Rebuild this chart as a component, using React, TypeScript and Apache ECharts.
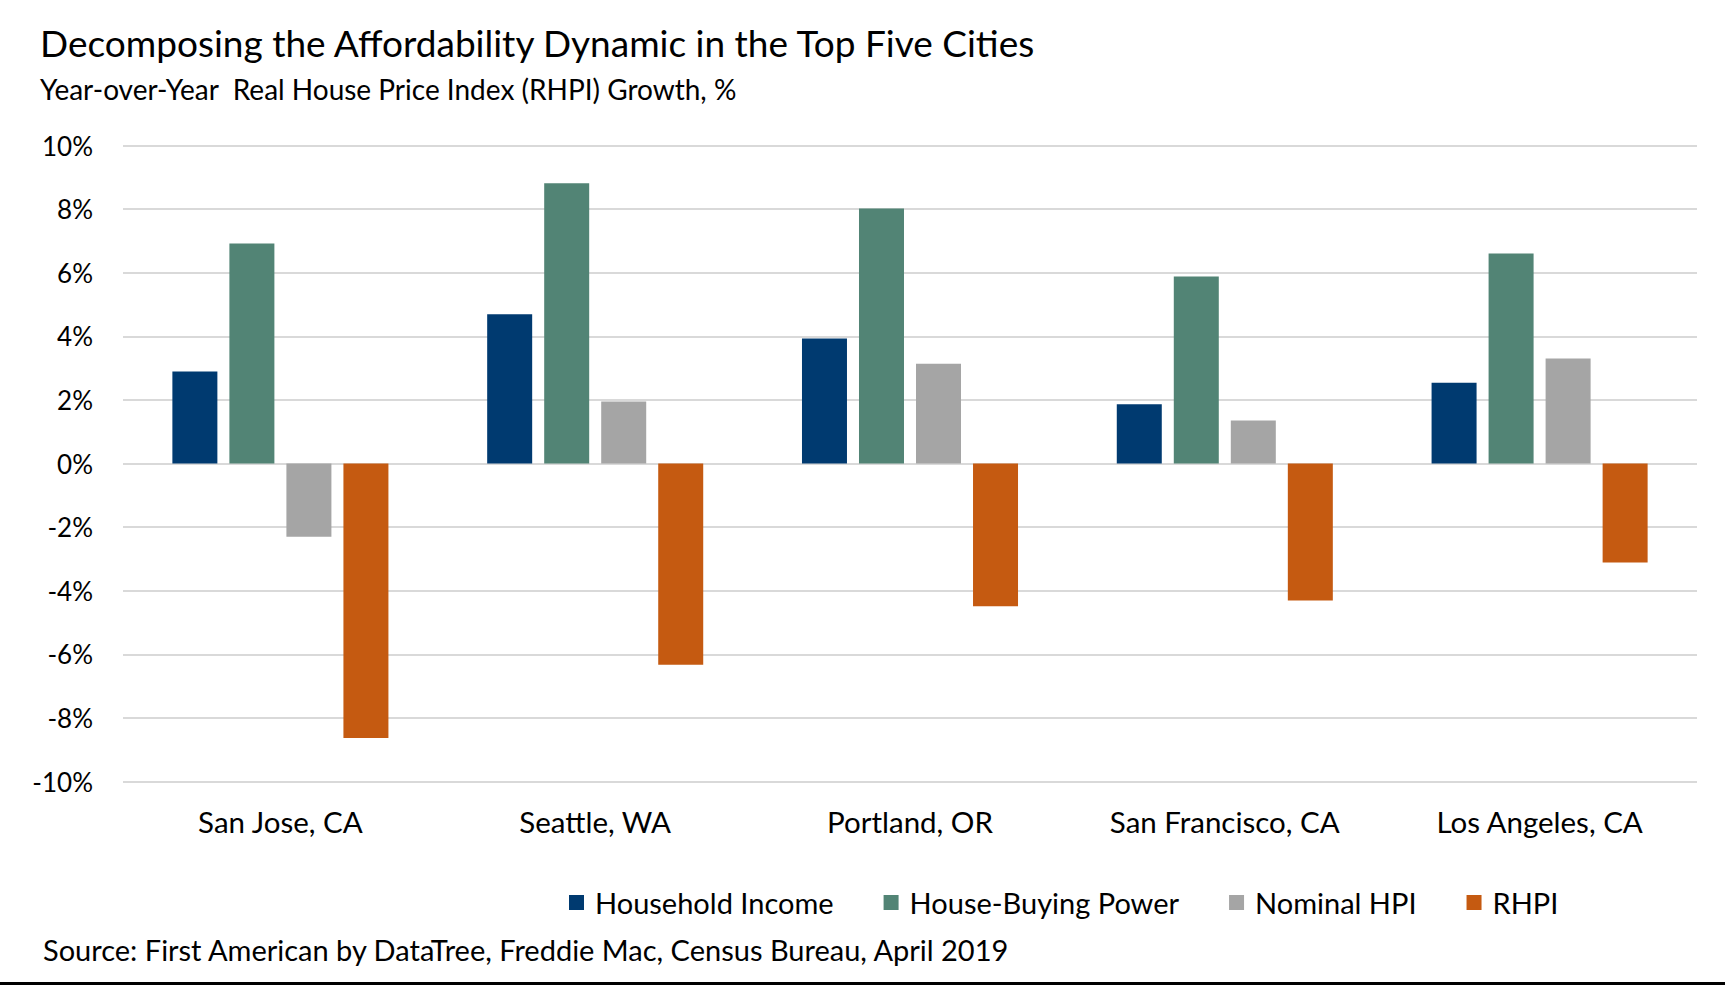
import React, { useEffect, useRef } from "react";
import * as echarts from "echarts";

const categories = ["San Jose, CA", "Seattle, WA", "Portland, OR", "San Francisco, CA", "Los Angeles, CA"];
const householdIncome = [2.89, 4.69, 3.93, 1.86, 2.54];
const houseBuyingPower = [6.92, 8.81, 8.02, 5.88, 6.6];
const nominalHPI = [-2.3, 1.95, 3.14, 1.35, 3.3];
const rhpi = [-8.63, -6.33, -4.49, -4.31, -3.11];
const seriesNames = ["Household Income", "House-Buying Power", "Nominal HPI", "RHPI"];
const seriesColors = ["#003A70", "#528475", "#A5A5A5", "#C55A11"];

const titleText = "Decomposing the Affordability Dynamic in the Top Five Cities";
const subtitleText = "Year-over-Year  Real House Price Index (RHPI) Growth, %";
const sourceText = "Source: First American by DataTree, Freddie Mac, Census Bureau, April 2019";

const FONT = "Lato, 'Open Sans', sans-serif";

export default function App() {
  const ref = useRef<HTMLDivElement>(null);
  useEffect(() => {
    document.body.style.margin = "0";
    const chart = echarts.init(ref.current!, null, { renderer: "svg" });
    const data = [householdIncome, houseBuyingPower, nominalHPI, rhpi];
    chart.setOption({
      animation: false,
      backgroundColor: "#ffffff",
      textStyle: { fontFamily: FONT },
      title: [
        {
          text: titleText,
          left: 40,
          top: 23.5,
          padding: 0,
          textStyle: { fontFamily: FONT, fontSize: 37, fontWeight: "normal", color: "#000" },
        },
        {
          text: subtitleText,
          left: 40,
          top: 74.5,
          padding: 0,
          textStyle: { fontFamily: FONT, fontSize: 28, fontWeight: "normal", color: "#000" },
        },
        {
          text: sourceText,
          left: 43,
          top: 934.5,
          padding: 0,
          textStyle: { fontFamily: FONT, fontSize: 29, fontWeight: "normal", color: "#000" },
        },
      ],
      legend: {
        data: seriesNames,
        left: 569,
        top: 888,
        padding: 0,
        icon: "rect",
        itemWidth: 15,
        itemHeight: 15,
        itemGap: 50,
        textStyle: { fontFamily: FONT, fontSize: 29, color: "#000", padding: [0, 0, 0, 6] },
      },
      grid: { left: 123, right: 28, top: 145.5, bottom: 204.5, containLabel: false },
      xAxis: {
        type: "category",
        data: categories,
        axisLine: { show: false },
        axisTick: { show: false },
        axisLabel: { fontFamily: FONT, fontSize: 29.5, color: "#000", margin: 25 },
        splitLine: { show: false },
      },
      yAxis: {
        type: "value",
        min: -10,
        max: 10,
        interval: 2,
        axisLine: { show: false },
        axisTick: { show: false },
        axisLabel: { fontFamily: FONT, fontSize: 26, color: "#000", margin: 30, formatter: "{value}%" },
        splitLine: { lineStyle: { color: "#D9D9D9", width: 2 } },
      },
      series: seriesNames.map((name, i) => ({
        name,
        type: "bar",
        data: data[i],
        barWidth: 45,
        barGap: "26.7%",
        itemStyle: { color: seriesColors[i] },
      })),
      graphic: [
        {
          type: "rect",
          shape: { x: 0, y: 982, width: 1725, height: 3 },
          style: { fill: "#000" },
        },
      ],
    });
    return () => chart.dispose();
  }, []);
  return <div ref={ref} style={{ width: 1725, height: 986 }} />;
}
